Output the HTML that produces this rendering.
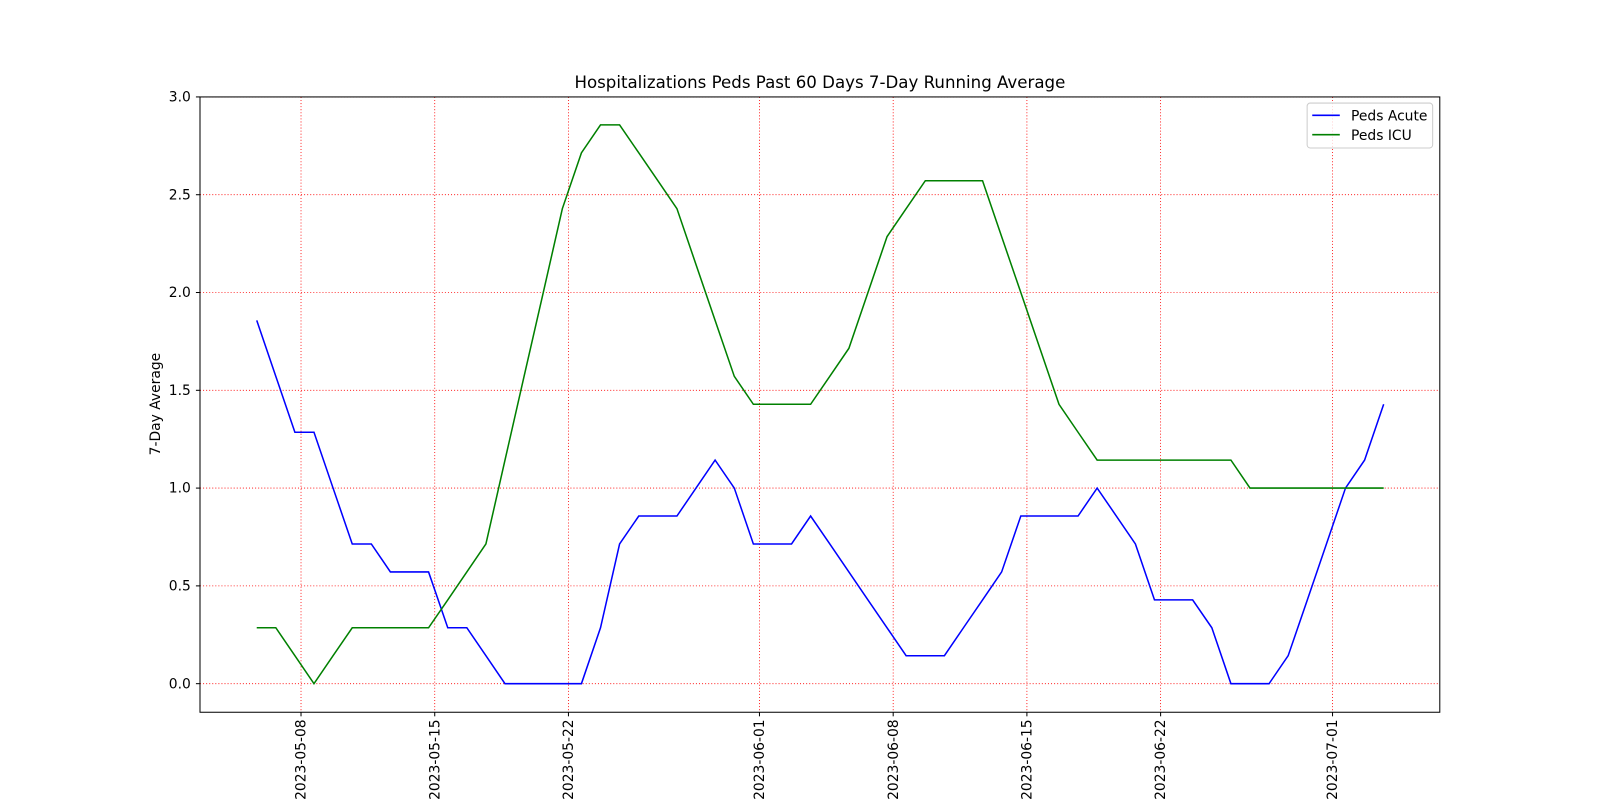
<!DOCTYPE html>
<html><head><meta charset="utf-8"><style>
body{margin:0;background:#fff;}
svg{display:block;}
svg text{font-family:"DejaVu Sans","Liberation Sans",sans-serif;fill:#000;}
</style></head><body>
<svg id="chart" width="1600" height="800" viewBox="0 0 1568 784">
<rect width="1568" height="784" fill="#fff"/>
<text x="803.5" y="86" font-size="16.3" text-anchor="middle">Hospitalizations Peds Past 60 Days 7-Day Running Average</text>
<text transform="translate(157,396) rotate(-90)" font-size="13.6" text-anchor="middle">7-Day Average</text>
<g id="grid"></g><g id="ticks"></g><g id="lines"></g>
<rect x="196" y="95" width="1215" height="603" fill="none" stroke="#000" stroke-width="1"/>
<g>
<rect x="1281" y="101" width="123" height="44" rx="3" fill="#fff" fill-opacity="0.8" stroke="#ccc"/>
<line x1="1286" y1="113" x2="1313" y2="113" stroke="#0000ff" stroke-width="1.5"/>
<text x="1324" y="118" font-size="13.6">Peds Acute</text>
<line x1="1286" y1="132" x2="1313" y2="132" stroke="#008000" stroke-width="1.5"/>
<text x="1324" y="137" font-size="13.6">Peds ICU</text>
</g>
</svg>
<script>
const startDay = -2; // days relative to 2023-05-08
const acuteSevenths = [13,11,9,9,7,5,5,4,4,4,2,2,1,0,0,0,0,0,2,5,6,6,6,7,8,7,5,5,5,6,5,4,3,2,1,1,1,2,3,4,6,6,6,6,7,6,5,3,3,3,2,0,0,0,1,3,5,7,8,10];
const icuSevenths = [2,2,1,0,1,2,2,2,2,2,3,4,5,8,11,14,17,19,20,20,19,18,17,15,13,11,10,10,10,10,11,12,14,16,17,18,18,18,18,16,14,12,10,9,8,8,8,8,8,8,8,8,7,7,7,7,7,7,7,7];
const acute = acuteSevenths.map(v=>v/7);
const icu = icuSevenths.map(v=>v/7);
const yTicks = [0,0.5,1,1.5,2,2.5,3];
const yTickLabels = ["0.0","0.5","1.0","1.5","2.0","2.5","3.0"];
const xTickDays = [0,7,14,24,31,38,45,54];
const xTickLabels = ["2023-05-08","2023-05-15","2023-05-22","2023-06-01","2023-06-08","2023-06-15","2023-06-22","2023-07-01"];

const ns="http://www.w3.org/2000/svg";
const X0=295, DX=18.72, OFF=-0.32;
function xOf(d){return X0+DX*d;}
function yOf(v){return 670-v*191.67;}
function mk(t,a,p){const e=document.createElementNS(ns,t);for(const k in a)e.setAttribute(k,a[k]);p.appendChild(e);return e;}
const grid=document.getElementById('grid'), ticks=document.getElementById('ticks'), lines=document.getElementById('lines');
yTicks.forEach((v,i)=>{
  const y=yOf(v);
  const g=mk('line',{x1:196,x2:1411,y1:y,y2:y,stroke:'#ff0000','stroke-width':0.8,'stroke-dasharray':'1,2'},grid);
  
  
  mk('line',{x1:192,x2:196,y1:y,y2:y,stroke:'#000'},ticks);
  const t=mk('text',{x:187,y:y+4.5,'font-size':13.6,'text-anchor':'end'},ticks);
  t.textContent=yTickLabels[i];
  
  
});
xTickDays.forEach((d,i)=>{
  const x=xOf(d);
  const g=mk('line',{x1:x,x2:x,y1:95,y2:698,stroke:'#ff0000','stroke-width':0.8,'stroke-dasharray':'1,2'},grid);
  
  
  mk('line',{x1:x,x2:x,y1:698,y2:702,stroke:'#000'},ticks);
  const t=mk('text',{transform:`translate(${x+4.5},705) rotate(-90)`,'font-size':13.6,'text-anchor':'end'},ticks);
  t.textContent=xTickLabels[i];
  
  
});
function draw(arr,color,name){
  const pts=arr.map((v,i)=>xOf(startDay+i+OFF).toFixed(1)+','+yOf(v).toFixed(1)).join(' ');
  const p=mk('polyline',{points:pts,fill:'none',stroke:color,'stroke-width':1.5},lines);
  
  
}
draw(acute,'#0000ff','peds-acute-line');
draw(icu,'#008000','peds-icu-line');
</script>
</body></html>
